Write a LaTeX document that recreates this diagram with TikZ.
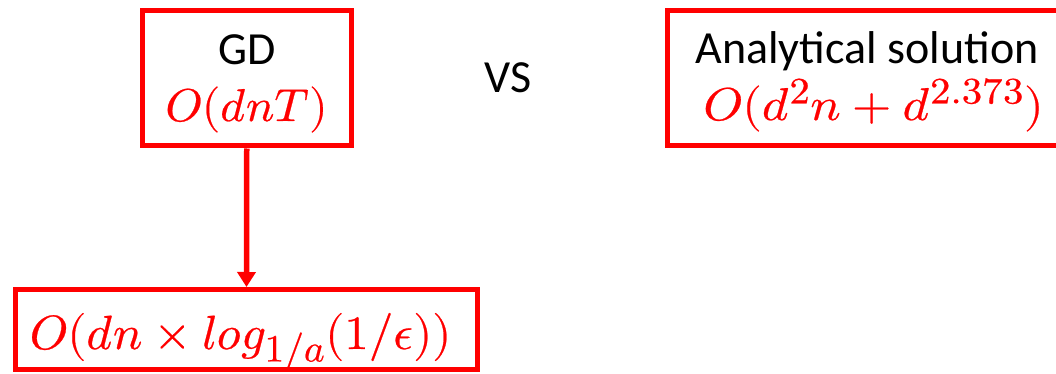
\documentclass[tikz,border=0pt]{standalone}
\usepackage{fontspec}
\usepackage{unicode-math}
\setmainfont{Carlito}
\setmathfont{Latin Modern Math}[FakeBold=0.5]
\usetikzlibrary{arrows.meta}
\definecolor{boxred}{RGB}{255,0,0}
\newcommand{\bigscr}[1]{\scalebox{1.15}{$\scriptstyle #1$}}
\tikzset{
  box/.style={draw=boxred, line width=5pt, fill=white, inner sep=0pt},
  lbl/.style={anchor=base, inner sep=0pt, font=\fontsize{46}{50}\selectfont},
  mth/.style={anchor=base, inner sep=0pt, text=boxred, font=\fontsize{46}{50}\selectfont},
  conn/.style={draw=boxred, line width=5.5pt, -{Triangle[width=18pt,length=15pt]}}
}
\begin{document}
\begin{tikzpicture}[x=1pt,y=-1pt]
\useasboundingbox (0,0) rectangle (1056,374);
\node[box, minimum width=208.5pt, minimum height=135.5pt] (gd) at (246.75,78.25) {};
\node[box, minimum width=402.5pt, minimum height=135.5pt] (an) at (868.75,78.25) {};
\node[box, minimum width=462pt, minimum height=80pt] (res) at (246.5,329.5) {};
\node[lbl] (gdt) at (247,65) {GD};
\node[mth] (gdm) at (246.5,121) {\scalebox{1.03}[1]{$O(dnT)$}};
\node[lbl] (ant) at (867,64) {Analytical solution};
\node[mth] (anm) at (873.5,120) {\scalebox{1.1}[1]{$O(d^{\bigscr{2}}n+d^{\bigscr{2.373}})$}};
\node[mth, font=\fontsize{48}{52}\selectfont] (resm) at (240.5,349) {\scalebox{1.02}[1]{$O(dn\times log_{\bigscr{1/a}}(1/\epsilon))$}};
\node[lbl] (vs) at (508,93) {VS};
\draw[conn] (gd.south) -- (res.north);
\end{tikzpicture}
\end{document}
